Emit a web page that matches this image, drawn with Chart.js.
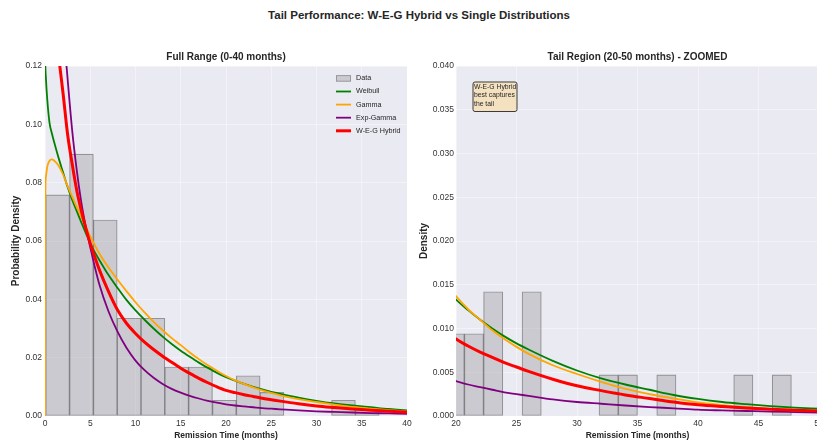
<!DOCTYPE html>
<html lang="en">
<head>
<meta charset="utf-8" />
<title>Tail Performance: W-E-G Hybrid vs Single Distributions</title>
<script src="https://cdn.jsdelivr.net/npm/chart.js@4.4.1/dist/chart.umd.min.js"></script>
<style>
    body { margin: 0; width: 817px; height: 446px; overflow: hidden; background: #fff; position: relative; font-family: "Liberation Sans", Arial, sans-serif; }
    #suptitle { position: absolute; left: 0; top: 8px; width: 838px; line-height: 14px; text-align: center; font-weight: bold; font-size: 11.5px; color: #262626; }
    canvas { position: absolute; top: 40px; }
    #full { left: 0; }
    #tail { left: 410px; }
</style>
</head>
<body>
<div id="suptitle">Tail Performance: W-E-G Hybrid vs Single Distributions</div>
<canvas id="full" width="412" height="406"></canvas>
<canvas id="tail" width="420" height="406"></canvas>

<script>
// fitted density curves (months -> density)
var curveX = [0, 0.02, 0.1, 0.25, 0.5, 0.75, 1, 1.5, 2, 2.5, 3, 3.5, 4, 4.5, 5, 5.5, 6,
    7, 8, 9, 10, 11, 12, 13, 14, 15, 16, 17, 18, 19, 20, 21, 22, 23, 24, 25, 26,
    28, 30, 32, 34, 36, 38, 40, 42, 44, 46, 48, 50];
var weibullY = [0.135, 0.124, 0.116, 0.1085, 0.1005, 0.097, 0.094, 0.0885, 0.0835, 0.0785, 0.0742, 0.0703, 0.0665, 0.0628, 0.0592, 0.0562, 0.0535,
    0.0484, 0.0440, 0.0398, 0.0362, 0.0330, 0.0300, 0.0272, 0.0247, 0.0224, 0.0203, 0.0183, 0.0165, 0.0148, 0.0133, 0.0121, 0.0110, 0.0100, 0.0091, 0.0083, 0.0076,
    0.0063, 0.0052, 0.0043, 0.0036, 0.0030, 0.0024, 0.00195, 0.0016, 0.00135, 0.00113, 0.00096, 0.00083];
var gammaY = [0, 0.070, 0.082, 0.0855, 0.0875, 0.088, 0.0876, 0.0858, 0.0828, 0.0788, 0.0752, 0.0717, 0.0683, 0.0649, 0.0616, 0.0586, 0.0557,
    0.0510, 0.0468, 0.0428, 0.0390, 0.0355, 0.0323, 0.0294, 0.0267, 0.0243, 0.0218, 0.0195, 0.0174, 0.0155, 0.0137, 0.0122, 0.0110, 0.0098, 0.0088, 0.0079, 0.0071,
    0.0058, 0.0048, 0.0039, 0.0031, 0.0025, 0.0020, 0.00155, 0.00125, 0.0010, 0.00082, 0.0007, 0.0006];
var expGammaY = [null, null, null, null, null, null, null, null, 0.134, 0.1155, 0.098, 0.0845, 0.0735, 0.065, 0.0578, 0.0512, 0.0452,
    0.0360, 0.0290, 0.0234, 0.0190, 0.0157, 0.0131, 0.0110, 0.0093, 0.0080, 0.0069, 0.0060, 0.0052, 0.0046, 0.0040, 0.0036, 0.0033, 0.0030, 0.0027, 0.0025, 0.0023,
    0.0019, 0.0016, 0.0014, 0.0012, 0.00102, 0.00088, 0.00072, 0.00064, 0.00057, 0.0005, 0.00045, 0.0004];
var hybridY = [null, null, null, null, null, null, null, 0.1235, 0.1105, 0.0965, 0.0865, 0.0775, 0.0705, 0.0645, 0.0592, 0.0545, 0.0502,
    0.0428, 0.0364, 0.0318, 0.0283, 0.0253, 0.0228, 0.0205, 0.0184, 0.0164, 0.0146, 0.0129, 0.0114, 0.0100, 0.0088, 0.0080, 0.0073, 0.0067, 0.0061, 0.0056, 0.0051,
    0.0042, 0.00345, 0.0029, 0.0024, 0.0020, 0.0016, 0.00128, 0.00108, 0.00092, 0.00078, 0.00066, 0.00057];

// histogram, full range
var fullBinStart = [0.08, 2.712, 5.344, 7.976, 10.608, 13.24, 15.872, 18.504, 21.136, 23.768, 26.4, 29.032, 31.664, 34.296, 36.928];
var fullBinWidth = 2.632;
var fullDensity = [0.0758, 0.0898, 0.0672, 0.0335, 0.0335, 0.0168, 0.0168, 0.0054, 0.0138, 0.0081, 0, 0, 0.0054, 0.0027, 0];

// histogram, tail region
var tailBinStart = [19.10, 20.69, 22.28, 23.87, 25.46, 27.05, 28.64, 30.23, 31.82, 33.41, 35.00, 36.59, 38.18, 39.77, 41.36, 42.95, 44.54, 46.13, 47.72, 49.31];
var tailBinWidth = 1.59;
var tailDensity = [0.0094, 0.0094, 0.0142, 0, 0.0142, 0, 0, 0, 0.0047, 0.0047, 0, 0.0047, 0, 0, 0, 0.0047, 0, 0.0047, 0, 0];

var noteLines = ['W-E-G Hybrid', 'best captures', 'the tail'];

var curves = [
    { label: 'Weibull', y: weibullY, color: '#008000', width: 1.8 },
    { label: 'Gamma', y: gammaY, color: '#FFA500', width: 1.8 },
    { label: 'Exp-Gamma', y: expGammaY, color: '#800080', width: 1.8 },
    { label: 'W-E-G Hybrid', y: hybridY, color: '#FF0000', width: 3 }
];

var FONT = '"Liberation Sans", Arial, sans-serif';
var TEXT = '#262626';
var GRID = 'rgba(255,255,255,0.4)';
Chart.defaults.font.family = FONT;

function points(xs, ys) {
    return xs.map(function (x, i) { return { x: x, y: ys[i] }; });
}

function binPoints(starts, width, heights) {
    return starts.map(function (s, i) { return { x: s + width / 2, y: heights[i] }; });
}

function buildDatasets(starts, width, heights) {
    var sets = [{
        type: 'bar',
        label: 'Data',
        data: binPoints(starts, width, heights),
        backgroundColor: 'rgba(128,128,128,0.3)',
        borderColor: 'rgba(0,0,0,0.35)',
        borderWidth: 0.5,
        borderSkipped: false,
        barPercentage: 1,
        categoryPercentage: 1,
        order: 5,
        clip: 0
    }];
    curves.forEach(function (c, i) {
        sets.push({
            type: 'line',
            label: c.label,
            data: points(curveX, c.y),
            borderColor: c.color,
            borderWidth: c.width,
            pointRadius: 0,
            cubicInterpolationMode: 'monotone',
            fill: false,
            order: 4 - i
        });
    });
    return sets;
}

// seaborn-like grey panel
var panelBackground = {
    id: 'panelBackground',
    beforeDraw: function (chart) {
        var a = chart.chartArea, ctx = chart.ctx;
        ctx.save();
        ctx.fillStyle = '#EAEAF2';
        ctx.fillRect(a.left, a.top, a.right - a.left, a.bottom - a.top);
        ctx.restore();
    }
};

// legend in the upper right corner of the plot, no frame
var cornerLegend = {
    id: 'cornerLegend',
    afterDraw: function (chart) {
        var a = chart.chartArea, ctx = chart.ctx;
        var x0 = a.right - 71, y0 = a.top + 12.4;
        ctx.save();
        ctx.font = '7.2px ' + FONT;
        ctx.textBaseline = 'middle';
        chart.data.datasets.forEach(function (ds, i) {
            var y = y0 + i * 13.1;
            if (ds.type === 'bar') {
                ctx.fillStyle = ds.backgroundColor;
                ctx.fillRect(x0, y - 3.3, 15, 6.6);
                ctx.strokeStyle = 'rgba(0,0,0,0.25)';
                ctx.lineWidth = 1;
                ctx.strokeRect(x0 + 0.5, y - 2.8, 14, 5.6);
            } else {
                ctx.strokeStyle = ds.borderColor;
                ctx.lineWidth = ds.borderWidth;
                ctx.beginPath();
                ctx.moveTo(x0, y);
                ctx.lineTo(x0 + 15, y);
                ctx.stroke();
            }
            ctx.fillStyle = TEXT;
            ctx.fillText(ds.label, x0 + 20, y);
        });
        ctx.restore();
    }
};

// wheat text box in the tail panel
var tailNote = {
    id: 'tailNote',
    afterDraw: function (chart) {
        var a = chart.chartArea, ctx = chart.ctx;
        var bx = a.left + 16.5, by = a.top + 15.5, bw = 44, bh = 29.5;
        ctx.save();
        ctx.beginPath();
        ctx.roundRect(bx + 0.5, by + 0.5, bw, bh, 2);
        ctx.fillStyle = 'rgba(245,222,179,0.8)';
        ctx.fill();
        ctx.strokeStyle = '#3c3c3c';
        ctx.lineWidth = 1;
        ctx.stroke();
        ctx.font = '6.8px ' + FONT;
        ctx.fillStyle = TEXT;
        ctx.textBaseline = 'middle';
        noteLines.forEach(function (t, i) {
            ctx.fillText(t, bx + 1.5, by + 5.5 + i * 8.5);
        });
        ctx.restore();
    }
};

function makeOptions(cfg) {
    var tickFont = { family: FONT, size: 8.5 };
    return {
        responsive: false,
        animation: false,
        devicePixelRatio: 1,
        layout: { padding: { left: 0, right: cfg.padRight, top: 0, bottom: 0 } },
        plugins: {
            legend: { display: false },
            tooltip: { enabled: false },
            title: {
                display: true,
                text: cfg.title,
                fullSize: false,
                color: TEXT,
                font: { family: FONT, size: 10, weight: 'bold' },
                padding: { top: 11, bottom: 3 }
            }
        },
        scales: {
            x: {
                type: 'linear',
                min: cfg.xMin,
                max: cfg.xMax,
                offset: false,
                ticks: { stepSize: 5, color: '#333', font: tickFont, padding: 3, maxRotation: 0, autoSkip: false },
                grid: { color: GRID, lineWidth: 1, drawTicks: false, offset: false },
                border: { display: false },
                title: {
                    display: true,
                    text: 'Remission Time (months)',
                    color: TEXT,
                    font: { family: FONT, size: 8.5, weight: 'bold' },
                    padding: { top: 0, bottom: 5 }
                },
                afterFit: function (s) { s.height = 30; s.paddingLeft = 0; s.paddingRight = 0; }
            },
            y: {
                type: 'linear',
                min: 0,
                max: cfg.yMax,
                ticks: {
                    stepSize: cfg.yStep,
                    color: '#333',
                    font: tickFont,
                    padding: cfg.yTickPad,
                    callback: function (v) { return v.toFixed(cfg.decimals); }
                },
                grid: { color: GRID, lineWidth: 1, drawTicks: false },
                border: { display: false },
                title: {
                    display: true,
                    text: cfg.yTitle,
                    color: TEXT,
                    font: { family: FONT, size: 10, weight: 'bold' },
                    padding: { top: cfg.yTitlePad, bottom: 0 }
                },
                afterFit: function (s) { s.width = cfg.yWidth; s.paddingTop = 0; s.paddingBottom = 0; }
            }
        }
    };
}

new Chart(document.getElementById('full'), {
    type: 'bar',
    data: { datasets: buildDatasets(fullBinStart, fullBinWidth, fullDensity) },
    options: makeOptions({
        title: 'Full Range (0-40 months)', xMin: 0, xMax: 40, yMax: 0.12, yStep: 0.02, decimals: 2,
        yTitle: 'Probability Density', yTitlePad: 10, yTickPad: 3, yWidth: 45, padRight: 5
    }),
    plugins: [panelBackground, cornerLegend]
});

new Chart(document.getElementById('tail'), {
    type: 'bar',
    data: { datasets: buildDatasets(tailBinStart, tailBinWidth, tailDensity) },
    options: makeOptions({
        title: 'Tail Region (20-50 months) - ZOOMED', xMin: 20, xMax: 50, yMax: 0.04, yStep: 0.005, decimals: 3,
        yTitle: 'Density', yTitlePad: 8.5, yTickPad: 2, yWidth: 46, padRight: 11
    }),
    plugins: [panelBackground, tailNote]
});
</script>
</body>
</html>
